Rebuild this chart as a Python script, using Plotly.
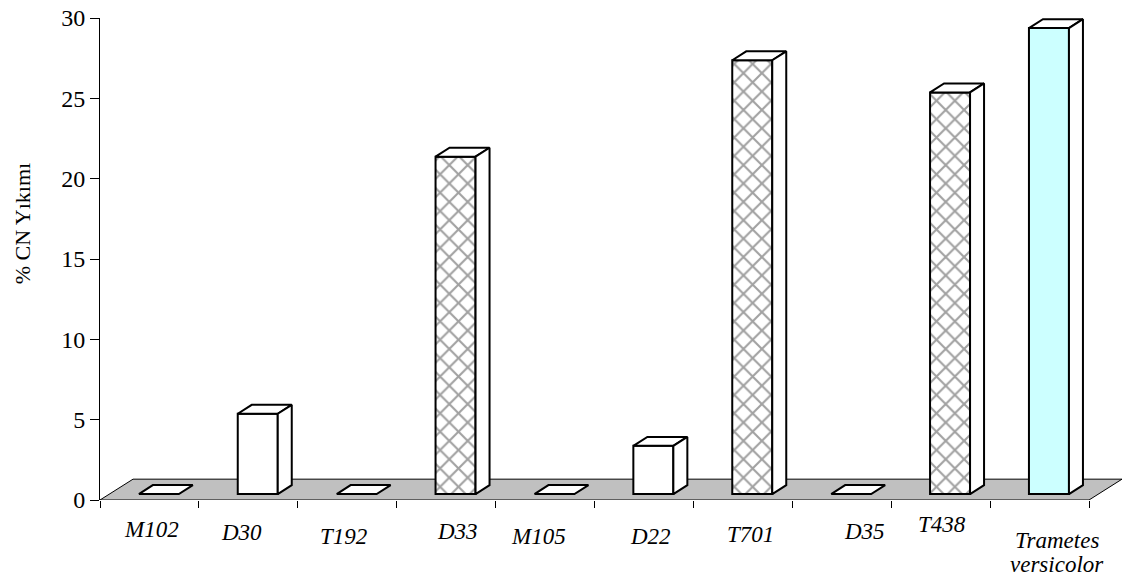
import plotly.graph_objects as go

# Strains and % CN degradation
categories = ["M102", "D30", "T192", "D33", "M105", "D22", "T701", "D35", "T438",
              "Trametes<br>versicolor"]
values = [0, 5, 0, 21, 0, 3, 27, 0, 25, 29]
# bar style: "plain" = white, "hatch" = lattice pattern, "cyan" = reference fungus
styles = ["plain", "plain", "plain", "hatch", "plain", "plain", "hatch", "plain", "hatch", "cyan"]
y_ticks = [0, 5, 10, 15, 20, 25, 30]

# ---- pseudo-3D geometry (in axis units) ----
PX_X = 98.9          # pixels per category
PX_Y = 16.2          # pixels per value unit
floor_dx, floor_dy = 33 / PX_X, 21 / PX_Y      # floor depth
bar_dx, bar_dy = 14 / PX_X, 9 / PX_Y           # bar depth
bar_base = 6 / PX_Y                            # bar front sits a bit behind floor edge
bar_shift = 9.4 / PX_X                         # matching horizontal shift
bar_w = 40 / PX_X
n = len(categories)
x_max = 1023 / PX_X

fill_for = {"plain": "white", "hatch": "white", "cyan": "#ccffff"}
shape_for = {"plain": "", "hatch": "x", "cyan": ""}

fig = go.Figure()

# floor
fx = [0, n, n + floor_dx, floor_dx]
fy = [0, 0, floor_dy, floor_dy]
floor_path = "M " + " L ".join(f"{a},{b}" for a, b in zip(fx, fy)) + " Z"
fig.add_shape(type="path", path=floor_path, xref="x", yref="y", layer="below",
              fillcolor="#c0c0c0", line=dict(color="black", width=1))

# front faces of the non-zero bars
centers = [i + 0.5 + bar_shift for i in range(n)]
nz = [i for i in range(n) if values[i] > 0]
fig.add_trace(go.Bar(
    x=[centers[i] for i in nz],
    y=[values[i] for i in nz],
    base=[bar_base] * len(nz),
    width=bar_w,
    marker=dict(
        color=[fill_for[styles[i]] for i in nz],
        line=dict(color="black", width=2),
        pattern=dict(shape=[shape_for[styles[i]] for i in nz],
                     fgcolor="black", bgcolor="white", size=13, solidity=0.3),
    ),
    hoverinfo="skip",
    showlegend=False,
))

# top and side faces (or a flat tile for zero values)
for i in range(n):
    xl = centers[i] - bar_w / 2
    xr = centers[i] + bar_w / 2
    h = bar_base + values[i]
    top_x = [xl, xr, xr + bar_dx, xl + bar_dx, xl]
    top_y = [h, h, h + bar_dy, h + bar_dy, h]
    fig.add_trace(go.Scatter(x=top_x, y=top_y, mode="lines", fill="toself",
                             fillcolor="white", line=dict(color="black", width=2),
                             hoverinfo="skip", showlegend=False))
    if values[i] > 0:
        side_x = [xr, xr, xr + bar_dx, xr + bar_dx, xr]
        side_y = [bar_base, h, h + bar_dy, bar_base + bar_dy, bar_base]
        fig.add_trace(go.Scatter(x=side_x, y=side_y, mode="lines", fill="toself",
                                 fillcolor="white", line=dict(color="black", width=2),
                                 hoverinfo="skip", showlegend=False))

# category labels beneath the floor (multi-line names get one annotation per line)
label_dx = [0.016, -0.074, -0.043, 0.11, -0.07, 0.07, 0.08, 0.235, 0.01, 0.18]
label_py = [530, 533, 537, 532, 537, 537, 535, 532, 525, 541]
line_gap = 24
plot_h = 486
for i, name in enumerate(categories):
    for k, part in enumerate(name.split("<br>")):
        fig.add_annotation(
            x=i + 0.5 + label_dx[i], xref="x",
            y=(500 - (label_py[i] + k * line_gap)) / plot_h, yref="paper",
            text=f"<i>{part}</i>", showarrow=False,
            xanchor="center", yanchor="middle",
            font=dict(family="Liberation Serif", size=23, color="black"),
        )

# y-axis title
fig.add_annotation(
    x=(22 - 100) / 1023, xref="paper", y=(500 - 222) / plot_h, yref="paper",
    text="% CN Yıkımı", textangle=-90, showarrow=False,
    xanchor="center", yanchor="middle",
    font=dict(family="Liberation Serif", size=22, color="black"),
)

fig.update_layout(
    width=1128, height=578,
    margin=dict(l=100, r=5, t=14, b=78),
    paper_bgcolor="white", plot_bgcolor="white",
    barmode="overlay",
    xaxis=dict(range=[0, x_max], tickvals=list(range(n + 1)),
               ticktext=[""] * (n + 1), ticks="outside", ticklen=7,
               tickcolor="black", showline=False, showgrid=False, zeroline=False,
               fixedrange=True),
    yaxis=dict(range=[0, 30], tickvals=y_ticks, ticks="outside", ticklen=9,
               tickcolor="black", showline=True, linecolor="black", linewidth=1,
               showgrid=False, zeroline=False,
               tickfont=dict(family="Liberation Serif", size=24, color="black"),
               fixedrange=True),
)

fig.write_html("out.html")
